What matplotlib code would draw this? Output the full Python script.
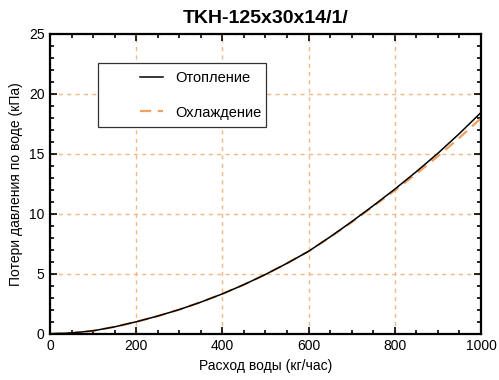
import numpy as np
import matplotlib
matplotlib.use("Agg")
import matplotlib.pyplot as plt
from matplotlib.ticker import MultipleLocator
from matplotlib.patches import Rectangle

plt.rcParams['font.family'] = ['Liberation Sans Narrow', 'Liberation Sans', 'DejaVu Sans']

# расход воды (кг/час)
flow = [0, 50, 100, 150, 200, 250, 300, 350, 400, 450, 500,
        550, 600, 650, 700, 750, 800, 850, 900, 950, 1000]
# потери давления, отопление (кПа)
heating = [0, 0.07, 0.25, 0.58, 1.00, 1.48, 2.02, 2.64, 3.33, 4.10, 4.95,
           5.88, 6.88, 8.08, 9.35, 10.68, 12.06, 13.52, 15.05, 16.70, 18.45]
# потери давления, охлаждение (кПа)
cooling = [0, 0.07, 0.25, 0.58, 1.00, 1.48, 2.02, 2.64, 3.33, 4.10, 4.95,
           5.88, 6.88, 8.06, 9.30, 10.62, 11.95, 13.35, 14.80, 16.35, 17.97]

fig = plt.figure(figsize=(4.99, 3.8), dpi=100)
ax = fig.add_axes([0.1002, 0.1216, 0.8637, 0.789])

ax.plot(flow, heating, color="black", lw=1.1, label="Отопление", zorder=3)
ax.plot(flow, cooling, color="#f0a060", lw=1.6, ls=(0, (5, 3)), label="Охлаждение", zorder=2)

ax.set_xlim(0, 1000)
ax.set_ylim(0, 25)
ax.xaxis.set_major_locator(MultipleLocator(200))
ax.xaxis.set_minor_locator(MultipleLocator(50))
ax.yaxis.set_major_locator(MultipleLocator(5))
ax.yaxis.set_minor_locator(MultipleLocator(1))
ax.tick_params(which="both", direction="in", top=True, right=True, labelsize=10, width=1.2)
ax.tick_params(which="major", length=5, pad=4)
ax.tick_params(which="minor", length=3)
for s in ax.spines.values():
    s.set_linewidth(1.6)

ax.grid(True, which="major", color="#f6b888", ls=(0, (3, 3)), lw=1.0, snap=True)

ax.set_title("TKH-125x30x14/1/", fontsize=14, fontweight="bold", pad=8)
ax.set_xlabel("Расход воды (кг/час)", fontsize=10)
ax.set_ylabel("Потери давления по воде (кПа)", fontsize=10)

# рамка легенды
box = Rectangle((0.111, 0.689), 0.39, 0.214, transform=ax.transAxes,
                facecolor="white", edgecolor="#333333", lw=0.9, zorder=4)
ax.add_patch(box)
leg = ax.legend(loc="upper left", bbox_to_anchor=(0.209, 0.876), fontsize=10.5,
                frameon=False, handlelength=1.6, handletextpad=0.8,
                labelspacing=1.4, borderpad=0, borderaxespad=0)
leg.set_zorder(5)

fig.savefig("out.png", dpi=100)
